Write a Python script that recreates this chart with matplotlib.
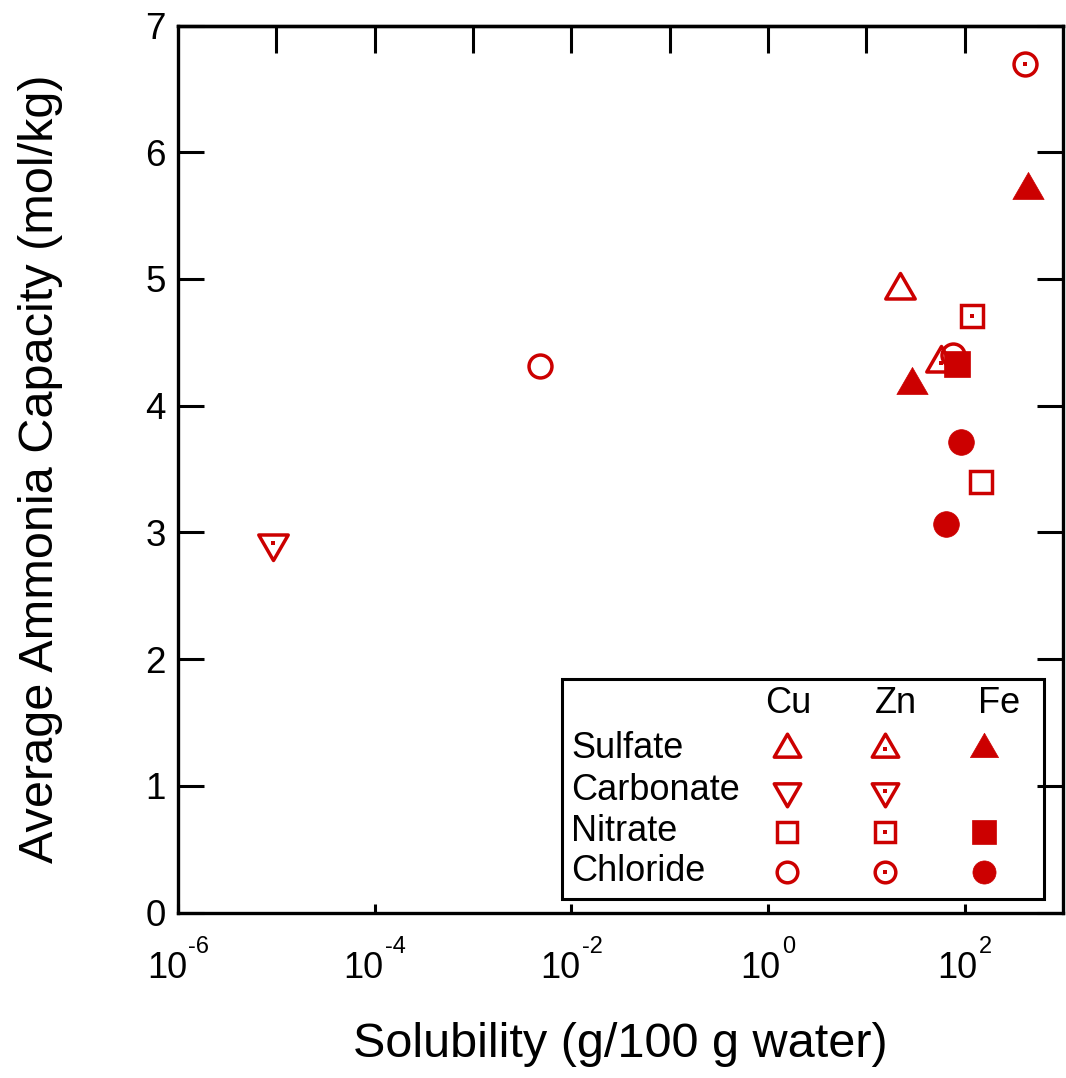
import matplotlib
matplotlib.use("Agg")
import matplotlib.pyplot as plt
import matplotlib.transforms as mtransforms
from matplotlib.patches import Rectangle
from matplotlib.path import Path

plt.rcParams['font.family'] = ['Liberation Sans', 'DejaVu Sans']
plt.rcParams['axes.unicode_minus'] = False

# ---- data (solubility g/100 g water, average NH3 capacity mol/kg) ----
cu_sulfate_x = [22.1]
cu_sulfate_y = [4.91]
zn_sulfate_x = [57.7]
zn_sulfate_y = [4.34]
fe_sulfate_x = [29.0, 439.0]
fe_sulfate_y = [4.16, 5.70]
zn_carbonate_x = [9.3e-6]
zn_carbonate_y = [2.92]
cu_nitrate_x = [145.0]
cu_nitrate_y = [3.40]
zn_nitrate_x = [120.0]
zn_nitrate_y = [4.71]
fe_nitrate_x = [82.8]
fe_nitrate_y = [4.33]
cu_chloride_x = [0.00476, 76.0]
cu_chloride_y = [4.31, 4.40]
zn_chloride_x = [406.0]
zn_chloride_y = [6.70]
fe_chloride_x = [91.5, 65.3]
fe_chloride_y = [3.71, 3.07]

metals = ['Cu', 'Zn', 'Fe']
anions = ['Sulfate', 'Carbonate', 'Nitrate', 'Chloride']
x_ticks = [1e-6, 1e-4, 1e-2, 1e0, 1e2]
x_tick_exponents = ['-6', '-4', '-2', '0', '2']
y_ticks = [0, 1, 2, 3, 4, 5, 6, 7]

RED = '#CC0000'
_closed = [Path.MOVETO, Path.LINETO, Path.LINETO, Path.CLOSEPOLY]
TRI_UP = Path([(-1, -0.577), (1, -0.577), (0, 1.155), (-1, -0.577)], _closed)
TRI_DN = Path([(-1, 0.577), (1, 0.577), (0, -1.155), (-1, 0.577)], _closed)

fig = plt.figure(figsize=(10.66, 10.78), dpi=100)
ax = fig.add_axes([0.167, 0.1535, 0.9972 - 0.167, 0.9763 - 0.1535])


def draw(axis, x, y, kind, variant, scale=1.0, **kw):
    """kind: tri_up, tri_dn, square, circle ; variant: open, dot, filled"""
    if kind == 'tri_up':
        m, ms_open, ms_fill = TRI_UP, 24.5, 26
    elif kind == 'tri_dn':
        m, ms_open, ms_fill = TRI_DN, 24.5, 26
    elif kind == 'square':
        m, ms_open, ms_fill = 's', 16.5, 18.5
    else:
        m, ms_open, ms_fill = 'o', 16.5, 18.5
    if variant == 'filled':
        axis.plot(x, y, linestyle='none', marker=m, ms=ms_fill * scale,
                  mfc=RED, mec=RED, mew=0.5, zorder=3, clip_on=False, **kw)
    else:
        axis.plot(x, y, linestyle='none', marker=m, ms=ms_open * scale,
                  mfc='none', mec=RED, mew=2.5, zorder=3, clip_on=False, **kw)
        if variant == 'dot':
            axis.plot(x, y, linestyle='none', marker='s', ms=3.2,
                      mfc=RED, mec=RED, mew=0, zorder=4, clip_on=False, **kw)


draw(ax, cu_sulfate_x, cu_sulfate_y, 'tri_up', 'open')
draw(ax, zn_sulfate_x, zn_sulfate_y, 'tri_up', 'dot')
draw(ax, fe_sulfate_x, fe_sulfate_y, 'tri_up', 'filled')
draw(ax, zn_carbonate_x, zn_carbonate_y, 'tri_dn', 'dot')
draw(ax, cu_nitrate_x, cu_nitrate_y, 'square', 'open')
draw(ax, zn_nitrate_x, zn_nitrate_y, 'square', 'dot')
draw(ax, cu_chloride_x, cu_chloride_y, 'circle', 'open')
draw(ax, fe_nitrate_x, fe_nitrate_y, 'square', 'filled')
draw(ax, zn_chloride_x, zn_chloride_y, 'circle', 'dot')
draw(ax, fe_chloride_x, fe_chloride_y, 'circle', 'filled')

ax.set_xscale('log')
ax.set_xlim(1e-6, 1e3)
ax.set_ylim(0, 7)
ax.set_xticks(x_ticks)
ax.set_xticklabels([''] * len(x_ticks))
ax.xaxis.set_minor_locator(matplotlib.ticker.NullLocator())
ax.set_yticks(y_ticks)

for s in ax.spines.values():
    s.set_linewidth(2.4)
ax.tick_params(axis='x', which='major', direction='in', length=6.5, width=2.2,
               top=False, bottom=True)
ax.tick_params(axis='y', which='major', direction='in', length=19, width=2.2,
               labelsize=26.5, pad=9, left=True, right=True)

# long ticks along top edge, one per decade
top = ax.secondary_xaxis('top')
top.set_xticks([1e-5, 1e-4, 1e-3, 1e-2, 1e-1, 1e0, 1e1, 1e2])
top.xaxis.set_minor_locator(matplotlib.ticker.NullLocator())
top.tick_params(direction='in', length=19.5, width=2.2, labeltop=False)
top.spines['top'].set_linewidth(2.4)

# x tick labels: "10" with a raised exponent, group centred on the tick
blend = mtransforms.blended_transform_factory(ax.transData, ax.transAxes)
base_texts, exp_texts = [], []
for xv, ex in zip(x_ticks, x_tick_exponents):
    t1 = ax.text(xv, 0, '10', fontsize=26, ha='left', va='baseline',
                 transform=blend, clip_on=False)
    t2 = ax.text(xv, 0, ex, fontsize=17, ha='left', va='baseline',
                 transform=blend, clip_on=False)
    base_texts.append(t1)
    exp_texts.append(t2)
fig.canvas.draw()
r = fig.canvas.get_renderer()
px2pt = 72.0 / fig.dpi
for xv, t1, t2 in zip(x_ticks, base_texts, exp_texts):
    w1 = t1.get_window_extent(r).width * px2pt
    w2 = t2.get_window_extent(r).width * px2pt
    gap = 1.0
    total = w1 + gap + w2
    t1.set_transform(blend + mtransforms.ScaledTranslation(
        -total / 2 / 72, -47.5 / 72, fig.dpi_scale_trans))
    t2.set_transform(blend + mtransforms.ScaledTranslation(
        (-total / 2 + w1 + gap) / 72, -29.5 / 72, fig.dpi_scale_trans))

fig.text(0.5 * (0.167 + 0.9972), (1078 - 1057) / 1078,
         'Solubility (g/100 g water)', fontsize=35, ha='center', va='baseline')
fig.text(53 / 1066, 0.5 * (0.1535 + 0.9763),
         'Average Ammonia Capacity (mol/kg)', fontsize=35, rotation=90,
         rotation_mode='anchor', ha='center', va='baseline')

# ---- legend (grid of metals x anions) ----
ax.add_patch(Rectangle((0.434, 0.0158), 0.9786 - 0.434, 0.2638 - 0.0158,
                       transform=ax.transAxes, fill=False, lw=2.2,
                       edgecolor='black', zorder=5, clip_on=False))
col_x = [0.688, 0.799, 0.911]
head_x = [0.690, 0.811, 0.928]
row_y = [0.1849, 0.1375, 0.0913, 0.0462]
for hx, mname in zip(head_x, metals):
    ax.text(hx, 0.2356, mname, transform=ax.transAxes, fontsize=26,
            ha='center', va='center', zorder=6)
for ry, aname in zip(row_y, anions):
    ax.text(0.444, ry, aname, transform=ax.transAxes, fontsize=26,
            ha='left', va='center', zorder=6)

legend_kinds = ['tri_up', 'tri_dn', 'square', 'circle']
legend_variants = ['open', 'dot', 'filled']
for ry, kind in zip(row_y, legend_kinds):
    for cx, var in zip(col_x, legend_variants):
        if kind == 'tri_dn' and var == 'filled':
            continue
        draw(ax, [cx], [ry], kind, var, scale=0.9, transform=ax.transAxes)

fig.savefig('out.png', dpi=100)
